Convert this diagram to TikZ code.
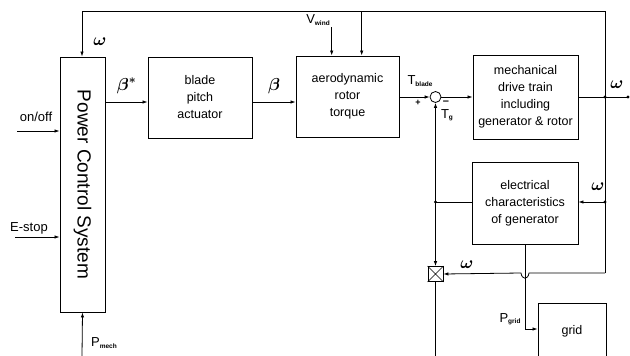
\documentclass[tikz,border=0pt]{standalone}
\usepackage{bm}
\usepackage{fontspec}
\setmainfont{Liberation Sans}
\usetikzlibrary{arrows.meta}
\tikzset{
  blk/.style={draw, line width=0.9pt, align=center, inner sep=0pt,
    font=\fontsize{12.5}{17}\selectfont},
  sig/.style={line width=0.8pt},
  arr/.style={sig, -{Latex[length=5pt,width=3.5pt]}},
  lbl/.style={font=\fontsize{13}{14}\selectfont, inner sep=0pt},
  om/.style={font=\fontsize{18}{18}\selectfont, inner sep=0pt},
  dotn/.style={circle, fill, inner sep=0pt, minimum size=3.2pt}
}
\newcommand{\sbs}[1]{\raisebox{-1.5pt}{\fontsize{6.5}{7}\selectfont\bfseries #1}}
\begin{document}
\begin{tikzpicture}[x=1pt,y=-1pt]
\useasboundingbox (0,0) rectangle (630,356);
\clip (0,0) rectangle (630,356);
% blocks
\node[blk, minimum width=45pt, minimum height=255pt] (pcs) at (82.5,184.5) {};
\node[font=\fontsize{19}{19}\selectfont, rotate=-90] (pcst) at (pcs.center) {Power Control System};
\node[blk, minimum width=104pt, minimum height=81pt] (blade) at (200,97.5) {blade\\pitch\\actuator};
\node[blk, minimum width=103pt, minimum height=81pt] (aero) at (347.5,96.5) {aerodynamic\\rotor\\torque};
\node[blk, minimum width=105pt, minimum height=84pt] (mech) at (525.5,97) {mechanical\\drive train\\including\\generator \& rotor};
\node[blk, minimum width=106pt, minimum height=82pt] (elec) at (525,203) {electrical\\characteristics\\of generator};
\node[blk, minimum width=68pt, minimum height=56pt] (grid) at (572,331) {grid};
\node[draw, circle, line width=0.8pt, minimum size=11pt, inner sep=0pt] (sum) at (435.5,97) {};
\node[draw, line width=0.8pt, minimum size=15pt, inner sep=0pt] (mult) at (435.5,274) {};
\draw[line width=0.7pt] (mult.north west) -- (mult.south east) (mult.north east) -- (mult.south west);
% coordinates
\coordinate (jw) at (605,97);
\coordinate (jtop) at (605,11);
\coordinate (ltop) at (82,11);
\coordinate (jel) at (605,202);
\coordinate (jbot) at (605,273);
\coordinate (wend) at (628,97);
\coordinate (tg) at (435.5,202);
\coordinate (vw) at (331.7,27);
\coordinate (vt) at (361.7,11);
\coordinate (pin) at (17,131);
\coordinate (ein) at (15,237);
\coordinate (pm) at (82,356);
\coordinate (mb) at (435.5,356);
\coordinate (gt) at (525,329);
% connectors
\draw[arr] (jw) -- (jtop) -- (ltop) -- (pcs.north -| ltop);
\draw[sig] (mech.east) -- (wend);
\draw[arr] (vw) -- (vw |- aero.north);
\draw[arr] (vt) -- (vt |- aero.north);
\draw[arr] (pcs.east |- 0,102) -- (blade.west |- 0,102) node[om, midway, above=8pt] {$\bm{\beta}^{\bm{*}}$};
\draw[arr] (blade.east |- 0,102) -- (aero.west |- 0,102) node[om, midway, above=8pt] {$\bm{\beta}$};
\draw[arr] (aero.east |- sum) -- (sum.west);
\draw[arr] (sum.east) -- (mech.west |- sum);
\draw[arr] (jw) -- (jel) -- (elec.east |- jel);
\draw[sig] (jel) -- (jbot);
\draw[arr] (jbot) -- (529,273) .. controls (528,280) and (522,280) .. (521,273) -- (mult.east);
\draw[sig] (elec.west |- tg) -- (tg);
\draw[arr] (tg) -- (sum.south);
\draw[arr] (tg) -- (mult.north);
\draw[sig] (mult.south) -- (mb);
\draw[arr] (elec.south) -- (gt) -- (grid.west |- gt);
\draw[arr] (pin) -- (pcs.west |- pin);
\draw[arr] (ein) -- (pcs.west |- ein);
\draw[arr] (pm) -- (pcs.south);
% dots
\node[dotn] at (jw) {};
\node[dotn] at (wend) {};
\node[dotn] at (jel) {};
\node[dotn] at (tg) {};
% labels
\node[om] at (100,42) {$\bm{\omega}$};
\node[om] at (617,85) {$\bm{\omega}$};
\node[om] at (598,187) {$\bm{\omega}$};
\node[om] at (467,265) {$\bm{\omega}$};
\node[lbl] at (318,20) {V\sbs{wind}};
\node[lbl] at (420,81) {T\sbs{blade}};
\node[lbl, font=\fontsize{9}{9}\selectfont\bfseries] at (418,103) {+};
\node[lbl, font=\fontsize{11}{11}\selectfont\bfseries] at (446,102.5) {--};
\node[lbl] at (447,115) {T\sbs{g}};
\node[lbl] at (510,319) {P\sbs{grid}};
\node[lbl] at (104,343) {P\sbs{mech}};
\node[lbl] at (36,117) {on/off};
\node[lbl] at (29,228) {E-stop};
\end{tikzpicture}
\end{document}
